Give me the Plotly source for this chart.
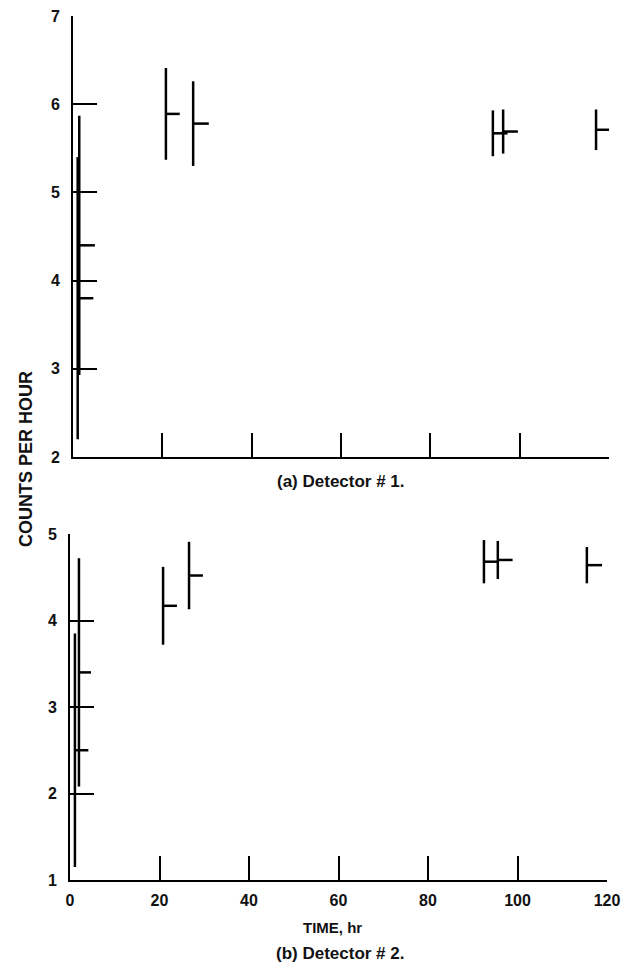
import plotly.graph_objects as go

# Detector #1 (panel a)
t1 = [1.05, 1.4, 20.8, 26.9, 94.0, 96.3, 117.1]
c1 = [3.8, 4.4, 5.89, 5.78, 5.67, 5.69, 5.71]
e1 = [1.6, 1.47, 0.52, 0.48, 0.26, 0.25, 0.23]
d1 = [3.5, 3.5, 3.1, 3.5, 3.3, 3.3, 3.0]

# Detector #2 (panel b)
t2 = [1.1, 2.0, 20.8, 26.6, 92.5, 95.6, 115.5]
c2 = [2.5, 3.4, 4.17, 4.52, 4.68, 4.70, 4.64]
e2 = [1.35, 1.32, 0.45, 0.39, 0.25, 0.22, 0.21]
d2 = [3.0, 2.7, 3.1, 3.1, 3.3, 3.3, 3.4]

x_ticks = [0, 20, 40, 60, 80, 100, 120]
y1_ticks = [2, 3, 4, 5, 6, 7]
y2_ticks = [1, 2, 3, 4, 5]

FONT = "Liberation Sans"
W, H = 636, 968

def px(xp):
    return xp / W

def py(yp):
    return 1 - yp / H

fig = go.Figure()

def add_series(t, c, e, d, xa, ya):
    fig.add_trace(go.Scatter(
        x=t, y=c, mode="markers", xaxis=xa, yaxis=ya,
        marker=dict(size=1, color="black"),
        error_y=dict(type="data", array=e, symmetric=True, width=0,
                     thickness=2.5, color="black"),
        error_x=dict(type="data", array=d, arrayminus=[0] * len(d),
                     symmetric=False, width=0, thickness=2.5, color="black"),
        showlegend=False, hoverinfo="x+y",
    ))

add_series(t1, c1, e1, d1, "x", "y")
add_series(t2, c2, e2, d2, "x2", "y2")

axis_common = dict(
    showline=True, linecolor="black", linewidth=2,
    ticks="inside", ticklen=24, tickwidth=2, tickcolor="black",
    showgrid=False, zeroline=False, automargin=False,
    tickfont=dict(family=FONT, size=16, color="#111", weight="bold"),
)

fig.update_layout(
    width=W, height=H,
    margin=dict(l=0, r=0, t=0, b=0),
    paper_bgcolor="white", plot_bgcolor="white",
    xaxis=dict(domain=[px(73), px(609)], range=[0, 120], tickvals=x_ticks,
               showticklabels=False, anchor="y", **axis_common),
    yaxis=dict(domain=[py(457), py(16)], range=[2, 7], tickvals=y1_ticks,
               anchor="x", ticklabelstandoff=8, **axis_common),
    xaxis2=dict(domain=[px(70), px(607)], range=[0, 120], tickvals=x_ticks,
                anchor="y2", ticklabelstandoff=5, **axis_common),
    yaxis2=dict(domain=[py(880), py(534)], range=[1, 5], tickvals=y2_ticks,
                anchor="x2", ticklabelstandoff=8, **axis_common),
    font=dict(family=FONT, color="#111"),
)

def ann(text, x, y, angle=0, size=15):
    fig.add_annotation(text=text, x=px(x), y=py(y), xref="paper", yref="paper",
                       showarrow=False, textangle=angle,
                       font=dict(family=FONT, size=size, color="#111", weight="bold"),
                       xanchor="center", yanchor="middle")

ann("(a) Detector # 1.", 341, 481, size=17)
ann("TIME, hr", 332, 927, size=15)
ann("(b) Detector # 2.", 340, 953, size=17)
ann("COUNTS PER HOUR", 26, 459, angle=-90, size=18)

fig.write_html(
    "out.html",
    config={"displayModeBar": False},
    post_script="document.body.style.margin='0';document.body.style.overflow='hidden';",
)
